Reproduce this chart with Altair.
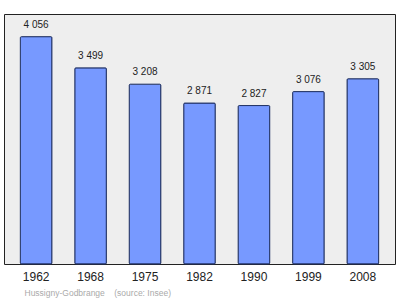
import altair as alt
import pandas as pd

years = ["1962", "1968", "1975", "1982", "1990", "1999", "2008"]
population = [4056, 3499, 3208, 2871, 2827, 3076, 3305]
labels = ["4 056", "3 499", "3 208", "2 871", "2 827", "3 076", "3 305"]

df = pd.DataFrame({"year": years, "pop": population, "label": labels})

FONT = "Liberation Sans"

x = alt.X(
    "year:N",
    sort=years,
    scale=alt.Scale(paddingInner=0.42, paddingOuter=0.3),
    axis=alt.Axis(
        title="Hussigny-Godbrange\u00a0\u00a0\u00a0\u00a0(source: Insee)",
        titleFont=FONT,
        titleFontSize=8.5,
        titleFontWeight="normal",
        titleColor="#aaaaaa",
        titleAlign="left",
        titleAnchor="start",
        titleBaseline="middle",
        titleX=20,
        titleY=28,
        labelAngle=0,
        labelFont=FONT,
        labelFontSize=12,
        labelColor="#222222",
        labelPadding=7,
        ticks=False,
        domain=False,
    ),
)
y = alt.Y("pop:Q", scale=alt.Scale(domain=[0, 4460], nice=False), axis=None)

bars = alt.Chart(df).mark_bar(
    color="#7799ff", stroke="#223366", strokeWidth=1, cornerRadius=1
).encode(x=x, y=y)

text = alt.Chart(df).mark_text(
    dy=-12, font=FONT, fontSize=10, color="#222222"
).encode(x=x, y=y, text="label:N")

chart = (
    alt.layer(bars, text)
    .properties(
        width=391,
        height=250,
        background="white",
        autosize=alt.AutoSizeParams(type="none"),
        padding={"left": 4, "top": 14, "right": 5, "bottom": 35},
    )
    .configure_view(fill="#eeeeee", stroke="#222222", strokeWidth=1)
)

chart.save("out.html", embed_options={"renderer": "svg", "actions": False})
